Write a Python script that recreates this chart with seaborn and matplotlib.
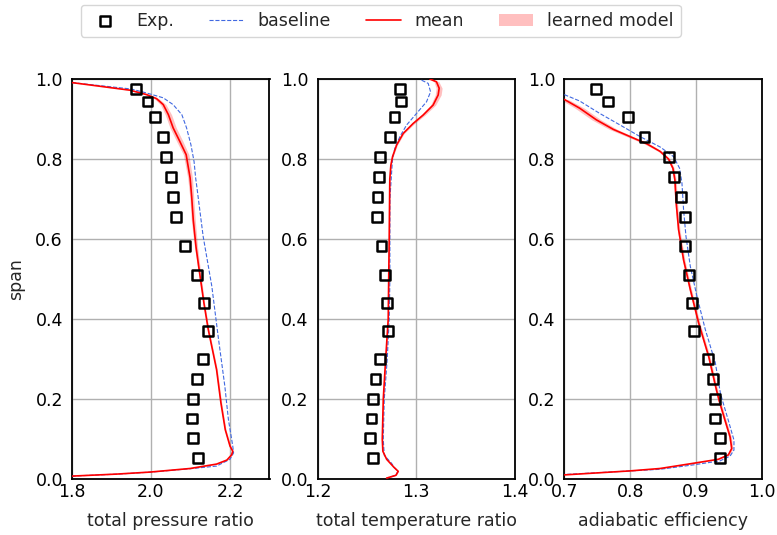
import matplotlib
matplotlib.use("Agg")
import matplotlib.pyplot as plt
import seaborn as sns
import numpy as np

# ---------------- data ----------------
EXP_SPAN = [0.975, 0.944, 0.905, 0.855, 0.805, 0.755, 0.705, 0.655, 0.582, 0.511,
            0.440, 0.370, 0.300, 0.250, 0.201, 0.152, 0.103, 0.053]
EXP_P1 = [1.961, 1.991, 2.011, 2.031, 2.039, 2.050, 2.055, 2.063, 2.087, 2.116,
          2.134, 2.144, 2.132, 2.117, 2.107, 2.103, 2.107, 2.118]
EXP_P2 = [1.2839, 1.2849, 1.2779, 1.2735, 1.2634, 1.2621, 1.2607, 1.2604, 1.2648, 1.2685,
          1.2705, 1.2715, 1.2631, 1.2587, 1.2560, 1.2547, 1.2530, 1.2560]
EXP_P3 = [0.7487, 0.7665, 0.7964, 0.8218, 0.8594, 0.8670, 0.8772, 0.8832, 0.8832, 0.8898,
          0.8944, 0.8975, 0.9183, 0.9254, 0.9284, 0.9294, 0.9371, 0.9360]

# total pressure ratio
P1_MEAN_SPAN = [0.991, 0.972, 0.961, 0.951, 0.936, 0.911, 0.878, 0.844, 0.811, 0.753,
                0.706, 0.648, 0.58, 0.523, 0.44, 0.374, 0.274, 0.191, 0.124, 0.083,
                0.07, 0.061, 0.048, 0.038, 0.027, 0.018, 0.013, 0.008]
P1_MEAN = [1.80, 1.947, 1.989, 2.014, 2.031, 2.044, 2.056, 2.073, 2.089, 2.099,
           2.103, 2.107, 2.114, 2.122, 2.134, 2.145, 2.166, 2.177, 2.188, 2.200,
           2.207, 2.204, 2.192, 2.166, 2.099, 1.997, 1.913, 1.80]
P1_BAND = [0.0, 0.003, 0.005, 0.006, 0.007, 0.008, 0.008, 0.008, 0.007, 0.006,
           0.005, 0.005, 0.004, 0.003, 0.002, 0.002, 0.002, 0.002, 0.002, 0.002,
           0.002, 0.002, 0.002, 0.002, 0.002, 0.001, 0.001, 0.0]
P1_BASE_SPAN = [0.991, 0.975, 0.965, 0.953, 0.936, 0.911, 0.878, 0.836, 0.794, 0.753,
                0.731, 0.607, 0.482, 0.357, 0.232, 0.149, 0.083, 0.066, 0.05, 0.033,
                0.027, 0.018, 0.013, 0.008]
P1_BASE = [1.80, 1.950, 1.989, 2.031, 2.056, 2.078, 2.090, 2.101, 2.109, 2.113,
           2.116, 2.132, 2.154, 2.170, 2.187, 2.196, 2.207, 2.209, 2.200, 2.166,
           2.105, 2.000, 1.915, 1.80]

# total temperature ratio
P2_MEAN_SPAN = [1.0, 0.993, 0.977, 0.96, 0.935, 0.91, 0.889, 0.864, 0.835, 0.806,
                0.785, 0.75, 0.6, 0.4, 0.3, 0.2, 0.1, 0.07, 0.05, 0.03,
                0.02, 0.01, 0.003]
P2_MEAN = [1.3138, 1.3205, 1.3232, 1.3222, 1.3171, 1.3070, 1.2969, 1.2868, 1.2801, 1.2760,
           1.2743, 1.2732, 1.2726, 1.2716, 1.2690, 1.2666, 1.2656, 1.2662, 1.2700, 1.2774,
           1.2817, 1.2794, 1.2700]
P2_BAND = [0.0015, 0.0025, 0.003, 0.003, 0.0025, 0.002, 0.0015, 0.001, 0.0008, 0.0006,
           0.0005, 0.0005, 0.0005, 0.0005, 0.0005, 0.0005, 0.0005, 0.0005, 0.0005, 0.0005,
           0.0005, 0.0005, 0.0005]
P2_BASE_SPAN = [0.997, 0.989, 0.968, 0.943, 0.914, 0.885, 0.856, 0.827, 0.802, 0.7,
                0.5, 0.4, 0.3, 0.2, 0.1, 0.06, 0.04, 0.03, 0.02, 0.01, 0.003]
P2_BASE = [1.3054, 1.3121, 1.3145, 1.3104, 1.3003, 1.2902, 1.2834, 1.2784, 1.2760, 1.2733,
           1.2733, 1.2726, 1.2706, 1.2676, 1.2666, 1.2676, 1.2750, 1.2776, 1.2815, 1.2794,
           1.2700]

# adiabatic efficiency
P3_MEAN_SPAN = [0.949, 0.927, 0.898, 0.874, 0.856, 0.838, 0.819, 0.8, 0.777, 0.748,
                0.69, 0.624, 0.548, 0.474, 0.391, 0.307, 0.224, 0.198, 0.148, 0.106,
                0.077, 0.061, 0.05, 0.04, 0.027, 0.021, 0.011]
P3_MEAN = [0.700, 0.7234, 0.7487, 0.7746, 0.800, 0.8254, 0.8457, 0.8584, 0.865, 0.868,
           0.870, 0.8736, 0.8812, 0.8914, 0.904, 0.9193, 0.931, 0.935, 0.944, 0.9518,
           0.9543, 0.9492, 0.934, 0.896, 0.8455, 0.800, 0.700]
P3_BAND = [0.006, 0.007, 0.007, 0.006, 0.005, 0.004, 0.003, 0.002, 0.002, 0.002,
           0.002, 0.002, 0.002, 0.002, 0.002, 0.002, 0.002, 0.002, 0.002, 0.002,
           0.002, 0.002, 0.002, 0.002, 0.002, 0.001, 0.0]
P3_BASE_SPAN = [0.961, 0.945, 0.914, 0.885, 0.856, 0.83, 0.806, 0.777, 0.74, 0.673,
                0.607, 0.532, 0.457, 0.374, 0.291, 0.216, 0.198, 0.148, 0.098, 0.073,
                0.058, 0.046, 0.036, 0.025, 0.012]
P3_BASE = [0.700, 0.7234, 0.7538, 0.7848, 0.8152, 0.8457, 0.866, 0.8751, 0.8787, 0.8812,
           0.8848, 0.8914, 0.9015, 0.9142, 0.9294, 0.937, 0.940, 0.949, 0.9577, 0.9577,
           0.9518, 0.9366, 0.896, 0.8455, 0.700]

XLABELS = ["total pressure ratio", "total temperature ratio", "adiabatic efficiency"]
XLIMS = [(1.8, 2.3), (1.2, 1.4), (0.7, 1.0)]
XTICKS = [[1.8, 2.0, 2.2], [1.2, 1.3, 1.4], [0.7, 0.8, 0.9, 1.0]]
YTICKS = [0.0, 0.2, 0.4, 0.6, 0.8, 1.0]
LEGEND_LABELS = ["Exp.", "baseline", "mean", "learned model"]

# ---------------- style ----------------
sns.set_style("white")
plt.rcParams.update({
    "font.family": ["DejaVu Sans"],
    "font.size": 12.5,
    "xtick.direction": "in",
    "ytick.direction": "in",
    "xtick.color": "black",
    "ytick.color": "black",
    "axes.edgecolor": "black",
    "axes.linewidth": 1.3,
})

fig = plt.figure(figsize=(7.77, 5.35), dpi=100)
W, H = 777.0, 535.0
lefts = [72, 317.5, 564.3]
aw, ab, ah = 197.5, 535 - 479.3, 400.3

panels = [
    (EXP_P1, P1_MEAN_SPAN, P1_MEAN, P1_BAND, P1_BASE_SPAN, P1_BASE),
    (EXP_P2, P2_MEAN_SPAN, P2_MEAN, P2_BAND, P2_BASE_SPAN, P2_BASE),
    (EXP_P3, P3_MEAN_SPAN, P3_MEAN, P3_BAND, P3_BASE_SPAN, P3_BASE),
]

axes = []
for i, (exp, mspan, mean, band, bspan, base) in enumerate(panels):
    ax = fig.add_axes([lefts[i] / W, ab / H, aw / W, ah / H])
    axes.append(ax)
    ax.grid(True, color="#b0b0b0", linewidth=1.0)
    ax.set_axisbelow(True)
    mean_a = np.asarray(mean)
    band_a = np.asarray(band)
    ax.fill_betweenx(mspan, mean_a - band_a, mean_a + band_a, color="red",
                     alpha=0.25, linewidth=0, label=LEGEND_LABELS[3], zorder=2)
    sns.lineplot(x=base, y=bspan, sort=False, estimator=None, ax=ax,
                 color="royalblue", linewidth=0.8, linestyle="--",
                 label=LEGEND_LABELS[1], legend=False, zorder=3)
    sns.lineplot(x=mean, y=mspan, sort=False, estimator=None, ax=ax,
                 color="red", linewidth=1.2, label=LEGEND_LABELS[2],
                 legend=False, zorder=4)
    sns.scatterplot(x=exp, y=EXP_SPAN, ax=ax, marker="s", s=50,
                    facecolor="none", edgecolor="black", linewidth=1.8,
                    label=LEGEND_LABELS[0], legend=False, zorder=5)
    ax.set_xlim(*XLIMS[i])
    ax.set_ylim(0, 1)
    ax.set_xticks(XTICKS[i])
    ax.set_yticks(YTICKS)
    ax.set_xlabel(XLABELS[i], fontsize=12.5)
    ax.xaxis.set_label_coords(0.5, (479.3 - 512.5) / 400.3)
    if i == 0:
        ax.set_ylabel("span", fontsize=12.5)
        ax.yaxis.set_label_coords((25 - 72) / 197.5, 0.5)
    else:
        ax.set_ylabel("")
    for sp in ax.spines.values():
        sp.set_visible(True)
        sp.set_color("black")
        sp.set_linewidth(1.3)
    ax.tick_params(axis="both", labelsize=12.5, direction="in", length=4,
                   width=1.0, color="black")
    ax.tick_params(axis="x", pad=3.0)
    ax.tick_params(axis="y", pad=6.5)

handles, labels = axes[0].get_legend_handles_labels()
order = [labels.index(l) for l in LEGEND_LABELS]
fig.legend([handles[k] for k in order], [labels[k] for k in order],
           loc="upper left", bbox_to_anchor=(81 / W, 1 - 5 / H), ncol=4,
           fontsize=12.5, frameon=True, edgecolor="#cccccc", fancybox=True,
           columnspacing=2.0, handlelength=2.0, borderaxespad=0)

fig.savefig("out.png", dpi=100)
